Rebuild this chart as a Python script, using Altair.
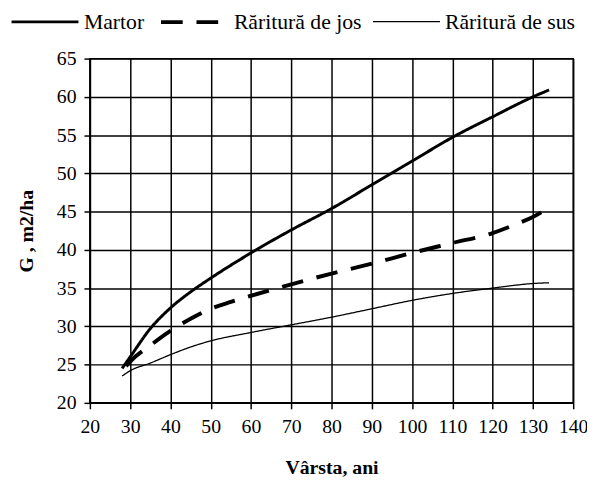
import altair as alt
import pandas as pd

series_names = ["Martor", "Răritură de jos", "Răritură de sus"]

age_martor = [28, 30, 35, 40, 45, 50, 60, 70, 80, 90, 100, 110, 120, 130, 134]
g_martor = [24.5, 26.0, 29.7, 32.4, 34.5, 36.3, 39.6, 42.6, 45.4, 48.5, 51.6, 54.7, 57.4, 60.0, 60.9]

age_jos = [29, 30, 35, 40, 45, 50, 55, 60, 70, 80, 90, 100, 110, 120, 126, 130, 134]
g_jos = [24.8, 25.4, 27.5, 29.4, 31.0, 32.3, 33.2, 34.0, 35.5, 36.9, 38.2, 39.6, 40.9, 42.2, 43.4, 44.3, 45.5]

age_sus = [28, 30, 35, 40, 45, 50, 60, 70, 80, 90, 100, 110, 120, 130, 134]
g_sus = [23.5, 24.2, 25.2, 26.3, 27.3, 28.1, 29.2, 30.2, 31.2, 32.3, 33.4, 34.3, 35.0, 35.6, 35.7]

x_ticks = list(range(20, 141, 10))
y_ticks = list(range(20, 66, 5))

rows = []
for name, ages, gs in [(series_names[0], age_martor, g_martor),
                       (series_names[1], age_jos, g_jos),
                       (series_names[2], age_sus, g_sus)]:
    for a, g in zip(ages, gs):
        rows.append({"Serie": name, "Varsta": a, "G": g})
df = pd.DataFrame(rows)

FONT = "'Liberation Serif', 'Times New Roman', serif"

chart = alt.Chart(df).mark_line(color="black", interpolate="monotone").encode(
    x=alt.X("Varsta:Q", title="Vârsta, ani",
            scale=alt.Scale(domain=[20, 140], nice=False, zero=False),
            axis=alt.Axis(values=x_ticks, format="d", labelPadding=8,
                          labelOverlap=False, labelFlush=False,
                          titlePadding=22)),
    y=alt.Y("G:Q", title="G , m2/ha",
            scale=alt.Scale(domain=[20, 65], nice=False, zero=False),
            axis=alt.Axis(values=y_ticks, format="d", labelPadding=8,
                          labelOverlap=False, labelFlush=False,
                          titlePadding=20)),
    strokeDash=alt.StrokeDash("Serie:N",
                              scale=alt.Scale(domain=series_names,
                                              range=[[1, 0], [22, 14], [1, 0]]),
                              legend=alt.Legend(title=None)),
    strokeWidth=alt.StrokeWidth("Serie:O",
                                scale=alt.Scale(type="ordinal",
                                                domain=series_names,
                                                range=[3.0, 4.0, 1.3]),
                                legend=alt.Legend(title=None)),
    detail="Serie:N",
).properties(
    width=490,
    height=349,
    autosize=alt.AutoSizeParams(type="none"),
    padding={"left": 83, "top": 48, "right": 14, "bottom": 83},
).configure_axis(
    grid=True,
    gridColor="black",
    gridOpacity=1,
    gridWidth=1.5,
    domainColor="black",
    domainWidth=1.5,
    tickColor="black",
    tickSize=6,
    tickWidth=1.5,
    labelFont=FONT,
    labelFontSize=20,
    labelColor="black",
    titleFont=FONT,
    titleFontSize=20,
    titleFontWeight="bold",
    titleColor="black",
).configure_legend(
    orient="none",
    legendX=-81,
    legendY=-73,
    direction="horizontal",
    symbolType="stroke",
    symbolSize=4600,
    symbolStrokeColor="black",
    labelFont=FONT,
    labelFontSize=22,
    labelColor="black",
    labelOffset=4,
    columnPadding=8,
).configure_view(
    stroke="black",
    strokeWidth=1.5,
)

chart.save("out.html", embed_options={"renderer": "svg", "actions": False})
